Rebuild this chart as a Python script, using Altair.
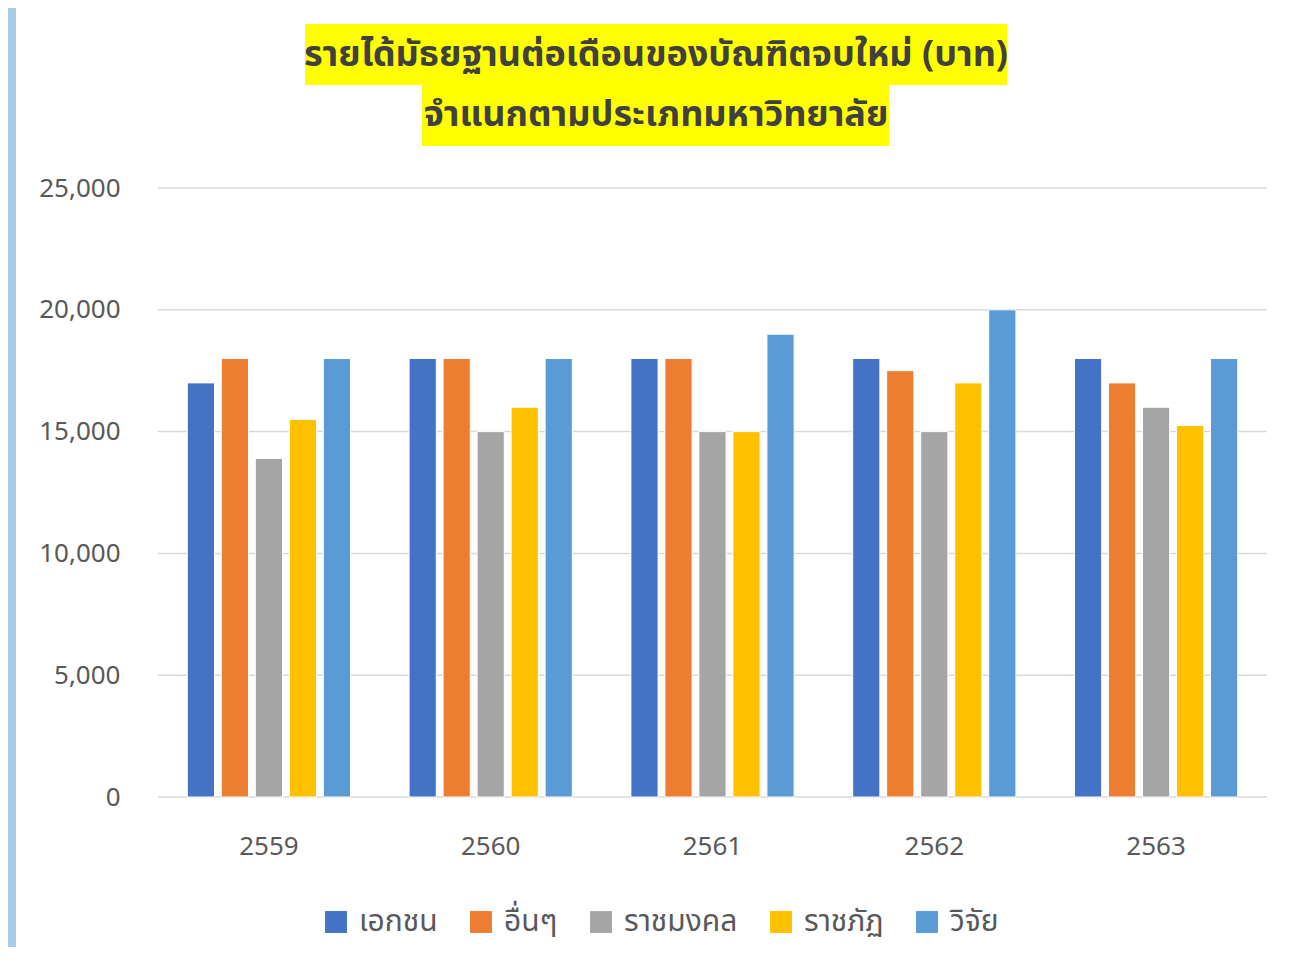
import altair as alt
import pandas as pd

years = ["2559", "2560", "2561", "2562", "2563"]
series = ["เอกชน", "อื่นๆ", "ราชมงคล", "ราชภัฏ", "วิจัย"]
colors = ["#4472C4", "#ED7D31", "#A5A5A5", "#FFC000", "#5B9BD5"]
v_private = [17000, 18000, 18000, 18000, 18000]
v_other = [18000, 18000, 18000, 17500, 17000]
v_rmut = [13900, 15000, 15000, 15000, 16000]
v_rajabhat = [15500, 16000, 15000, 17000, 15250]
v_research = [18000, 18000, 19000, 20000, 18000]
y_ticks = [0, 5000, 10000, 15000, 20000, 25000]
title_lines = ["รายได้มัธยฐานต่อเดือนของบัณฑิตจบใหม่ (บาท)", "จำแนกตามประเภทมหาวิทยาลัย"]

FONT = "Noto Sans Thai, Noto Sans, sans-serif"

rows = []
for s, vals in zip(series, [v_private, v_other, v_rmut, v_rajabhat, v_research]):
    for y, v in zip(years, vals):
        rows.append({"year": y, "series": s, "value": v})
df = pd.DataFrame(rows)
grid_df = pd.DataFrame({"value": y_ticks})

one = alt.Data(values=[{"a": 1}])

panel = alt.Chart(one).mark_rect(color="white", clip=False).encode(
    x=alt.value(-142), x2=alt.value(1127), y=alt.value(-184), y2=alt.value(790)
)
hl1 = alt.Chart(one).mark_rect(color="#FFFF00", clip=False).encode(
    x=alt.value(147), x2=alt.value(849), y=alt.value(-164), y2=alt.value(-103)
)
hl2 = alt.Chart(one).mark_rect(color="#FFFF00", clip=False).encode(
    x=alt.value(264), x2=alt.value(731), y=alt.value(-103), y2=alt.value(-42)
)
t1 = alt.Chart(alt.Data(values=[{"t": title_lines[0]}])).mark_text(
    font=FONT, fontSize=36, fontWeight="bold", color="#404040", align="center", baseline="middle", clip=False
).encode(text="t:N", x=alt.value(498), y=alt.value(-133))
t2 = alt.Chart(alt.Data(values=[{"t": title_lines[1]}])).mark_text(
    font=FONT, fontSize=36, fontWeight="bold", color="#404040", align="center", baseline="middle", clip=False
).encode(text="t:N", x=alt.value(498), y=alt.value(-73))

yscale = alt.Scale(domain=[0, 25000])
yaxis = alt.Axis(values=y_ticks, format=",.0f", domain=False, ticks=False, grid=False,
                 zindex=1, labelFont=FONT,
                 labelFontSize=26, labelColor="#595959", labelPadding=38)

grid = alt.Chart(grid_df).mark_rule(color="#D9D9D9", strokeWidth=1.5).encode(
    y=alt.Y("value:Q", title=None, scale=yscale, axis=yaxis),
    x=alt.value(0), x2=alt.value(1109),
)

bars = alt.Chart(df).mark_bar(stroke="white", strokeWidth=1).encode(
    x=alt.X("year:N", sort=years, title=None,
            scale=alt.Scale(paddingInner=0.264, paddingOuter=0.132),
            axis=alt.Axis(labelAngle=0, domain=False, ticks=False, grid=False, zindex=1,
                          labelFont=FONT, labelFontSize=26, labelColor="#595959", labelPadding=36)),
    xOffset=alt.XOffset("series:N", sort=series, scale=alt.Scale(paddingInner=0.2, paddingOuter=0)),
    y=alt.Y("value:Q", title=None, scale=yscale, axis=yaxis),
    color=alt.Color("series:N", sort=series,
                    scale=alt.Scale(domain=series, range=colors),
                    legend=alt.Legend(title=None, orient="none", legendX=163, legendY=719,
                                      direction="horizontal", symbolType="square",
                                      symbolSize=480, symbolStrokeWidth=0,
                                      labelFont=FONT, labelFontSize=30, labelColor="#595959",
                                      columnPadding=28, labelOffset=8, zindex=1)),
)

chart = alt.layer(panel, hl1, hl2, t1, t2, grid, bars).properties(
    width=1109, height=609,
    background="#A9CDE7",
    autosize=alt.AutoSizeParams(type="none"),
    padding={"left": 150, "top": 180, "right": 16, "bottom": 150},
).configure_view(strokeWidth=0)

chart.save("out.html", embed_options={"renderer": "svg", "actions": False})
